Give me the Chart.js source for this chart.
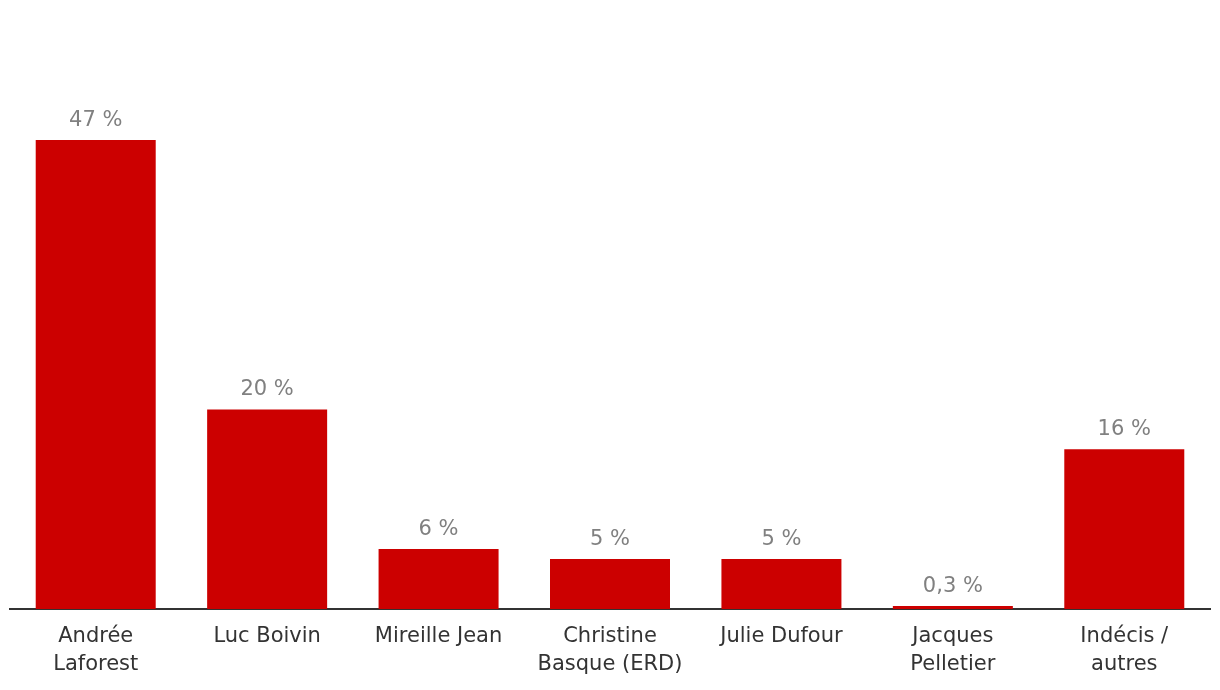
<!DOCTYPE html>
<html>
<head>
<meta charset="utf-8">
<script src="https://cdn.jsdelivr.net/npm/chart.js@4/dist/chart.umd.min.js"></script>
<style>
  html, body { margin: 0; padding: 0; background: #fff; }
  #wrap { width: 1220px; height: 690px; }
</style>
</head>
<body>
<div id="wrap"><canvas id="bar-chart"></canvas></div>
<script>
var candidates = [
    ['Andrée', 'Laforest'],
    'Luc Boivin',
    'Mireille Jean',
    ['Christine', 'Basque (ERD)'],
    'Julie Dufour',
    ['Jacques', 'Pelletier'],
    ['Indécis /', 'autres']
];
var votes = [47, 20, 6, 5, 5, 0.3, 16];

// little plugin to write the % above each bar
var valueLabels = {
    id: 'valueLabels',
    afterDatasetsDraw: function(chart) {
        var ctx = chart.ctx;
        var meta = chart.getDatasetMeta(0);
        ctx.save();
        ctx.font = '21px "DejaVu Sans"';
        ctx.fillStyle = '#808080';
        ctx.textAlign = 'center';
        ctx.textBaseline = 'alphabetic';
        meta.data.forEach(function(bar, i) {
            var txt = String(votes[i]).replace('.', ',') + ' %';
            ctx.fillText(txt, bar.x, bar.y - 14);
        });
        ctx.restore();
    }
};

var chart = new Chart(document.getElementById('bar-chart'), {
    type: 'bar',
    data: {
        labels: candidates,
        datasets: [{
            data: votes,
            backgroundColor: '#cc0000',
            barPercentage: 0.7,
            categoryPercentage: 1
        }]
    },
    options: {
        responsive: true,
        maintainAspectRatio: false,
        animation: false,
        layout: { padding: { left: 10, right: 10, top: 110, bottom: 0 } },
        plugins: {
            legend: { display: false },
            tooltip: { enabled: false }
        },
        scales: {
            x: {
                grid: { display: false, drawTicks: false },
                border: { display: true, color: '#333', width: 2 },
                ticks: {
                    color: '#333',
                    padding: 13,
                    maxRotation: 0,
                    autoSkip: false,
                    font: { family: '"DejaVu Sans"', size: 21, lineHeight: 1.35 }
                },
                afterFit: function(scale) { scale.height = 81; }
            },
            y: {
                display: false,
                min: 0,
                max: 50
            }
        }
    },
    plugins: [valueLabels]
});
</script>
</body>
</html>
